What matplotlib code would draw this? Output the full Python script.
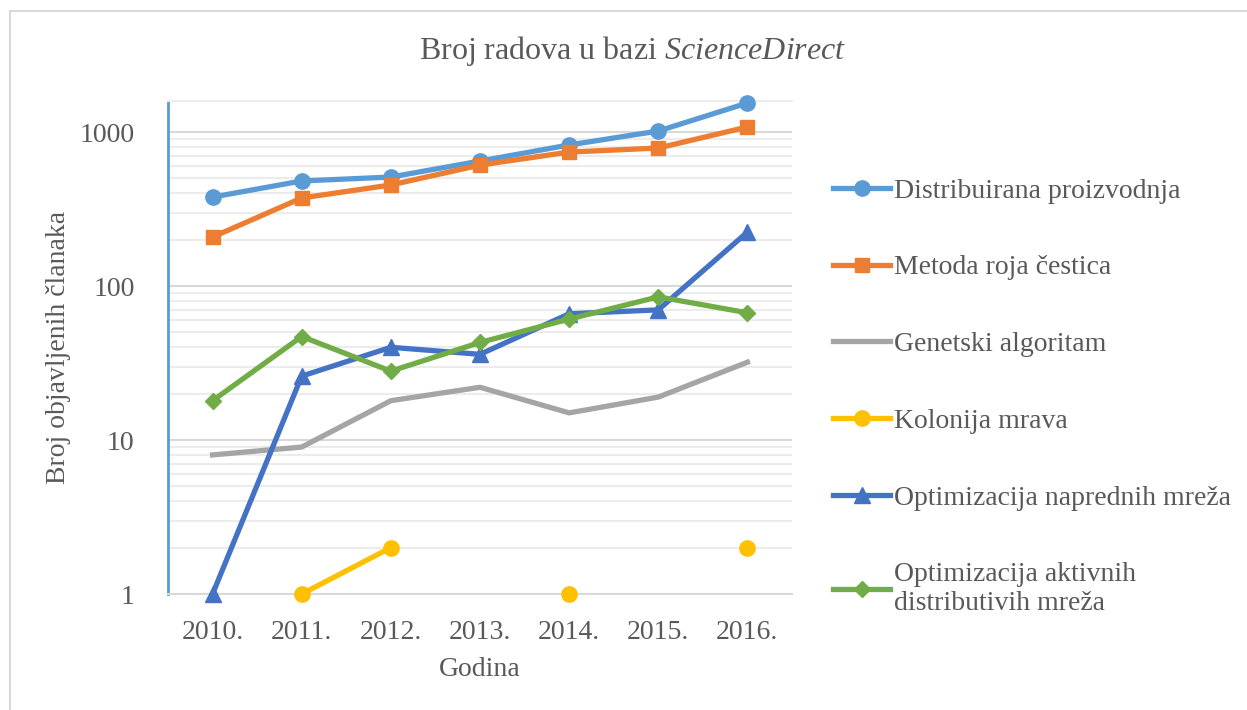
import numpy as np
import matplotlib
matplotlib.use("Agg")
import matplotlib.pyplot as plt
from matplotlib.patches import Rectangle
from matplotlib.ticker import LogLocator, FixedLocator, NullFormatter

# data
years = ["2010.", "2011.", "2012.", "2013.", "2014.", "2015.", "2016."]
distribuirana = [378, 481, 510, 648, 824, 1015, 1543]
metoda_roja = [208, 373, 453, 610, 741, 787, 1078]
genetski = [8, 9, 18, 22, 15, 19, 32]
kolonija = [np.nan, 1, 2, np.nan, 1, np.nan, 2]
napredne = [1, 26, 40, 36, 66, 70, 224]
aktivne = [18, 47, 28, 43, 61, 85, 67]

labels = ["Distribuirana proizvodnja", "Metoda roja čestica", "Genetski algoritam",
          "Kolonija mrava", "Optimizacija naprednih mreža",
          "Optimizacija aktivnih\ndistributivih mreža"]

plt.rcParams["font.family"] = ["Liberation Serif", "DejaVu Serif"]
plt.rcParams["mathtext.fontset"] = "custom"
plt.rcParams["mathtext.rm"] = "Liberation Serif"
plt.rcParams["mathtext.it"] = "Liberation Serif:italic"

txt = "#595959"
fs = 20

fig = plt.figure(figsize=(12.47, 7.1), dpi=100)
ax = fig.add_axes([168/1247, 1-594/710, 624/1247, 493/710])

x = np.arange(len(years))
series = [
    (distribuirana, "#5B9BD5", "o", 11),
    (metoda_roja, "#ED7D31", "s", 10.5),
    (genetski, "#A5A5A5", None, 0),
    (kolonija, "#FFC000", "o", 11),
    (napredne, "#4472C4", "^", 11),
    (aktivne, "#70AD47", "D", 8),
]
for (vals, col, mk, ms), lab in zip(series, labels):
    ax.plot(x, vals, color=col, lw=3.8, marker=mk, markersize=ms,
            label=lab, clip_on=False, zorder=3)

ax.set_yscale("log")
ax.set_ylim(1, 1590)
ax.set_xlim(-0.5, 6.5)
ax.set_xticks(x)
ax.set_xticklabels(years)
ax.yaxis.set_major_locator(FixedLocator([1, 10, 100, 1000]))
ax.yaxis.set_major_formatter(matplotlib.ticker.FuncFormatter(lambda v, p: f"{int(v)}"))
ax.yaxis.set_minor_locator(LogLocator(base=10, subs=np.arange(2, 10)))
ax.yaxis.set_minor_formatter(NullFormatter())
ax.tick_params(axis="both", which="both", length=0, labelsize=fs, labelcolor=txt)
ax.tick_params(axis="y", pad=24)
ax.tick_params(axis="x", pad=19)

ax.grid(which="major", axis="y", color="#d9d9d9", lw=1.5, zorder=0)
ax.grid(which="minor", axis="y", color="#ececec", lw=1.5, zorder=0)
ax.set_axisbelow(True)
ax.spines["right"].set_visible(False)
ax.spines["top"].set_color("#ececec")
ax.spines["top"].set_linewidth(1.5)
ax.spines["bottom"].set_color("#d9d9d9")
ax.spines["bottom"].set_linewidth(1.5)
ax.spines["left"].set_color("#5B9BD5")
ax.spines["left"].set_linewidth(2)

ax.set_xlabel("Godina", fontsize=fs, color=txt, labelpad=8)
ax.set_ylabel("Broj objavljenih članaka", fontsize=fs, color=txt, labelpad=6)

fig.text(633/1247, 1-51/710, r"Broj radova u bazi $\mathit{ScienceDirect}$",
         ha="center", va="center", fontsize=23, color=txt)

fig.legend(loc="upper left", bbox_to_anchor=(822/1247, 1-167/710),
           frameon=False, fontsize=fs, labelcolor=txt, labelspacing=1.85,
           handlelength=2.05, handletextpad=0.15, borderaxespad=0)

# outer chart border
fig.patches.append(Rectangle((10/1247, -0.1), 1.2, 1.1 - 11/710,
                             transform=fig.transFigure, fill=False,
                             ec="#d9d9d9", lw=1.5))

fig.savefig("out.png", dpi=100)
